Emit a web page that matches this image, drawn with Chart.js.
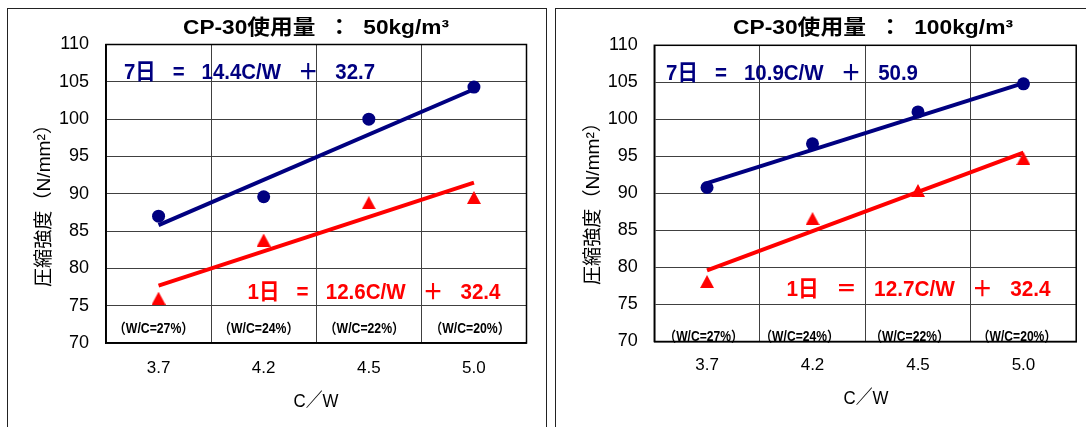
<!DOCTYPE html>
<html>
<head>
<meta charset="utf-8">
<script src="https://cdn.jsdelivr.net/npm/chart.js@4.4.1/dist/chart.umd.min.js"></script>
<style>
  html, body { margin: 0; padding: 0; background: #fff; }
  body { width: 1086px; height: 427px; overflow: hidden; position: relative; }
  .panel { position: absolute; border: 1px solid #222; box-sizing: border-box; }
  #p1 { left: 6.5px; top: 7.5px; width: 540px; height: 460px; }
  #p2 { left: 555px; top: 7.5px; width: 600px; height: 460px; }
  canvas { position: absolute; top: 0; }
  #c1 { left: 0; }
  #c2 { left: 546px; }
</style>
</head>
<body>
<div class="panel" id="p1"></div>
<div class="panel" id="p2"></div>
<canvas id="c1" width="546" height="427" style="width:546px;height:427px"></canvas>
<canvas id="c2" width="540" height="427" style="width:540px;height:427px"></canvas>
<script>
// ---- data ----
const categories = ['3.7', '4.2', '4.5', '5.0'];
const wcLabels = ['（W/C=27%）', '（W/C=24%）', '（W/C=22%）', '（W/C=20%）'];
const yTickMin = 70;
const yTickMax = 110;
const yTickStep = 5;

// CP-30 50kg/m3
const day7_50 = [87.0, 89.6, 100.0, 104.3];
const day1_50 = [76.0, 83.8, 88.8, 89.5];
const trend7_50 = [85.8, null, null, 104.0];
const trend1_50 = [77.7, null, null, 91.5];

// CP-30 100kg/m3
const day7_100 = [90.8, 96.7, 101.0, 104.8];
const day1_100 = [78.1, 86.6, 90.4, 94.7];
const trend7_100 = [91.4, null, null, 104.9];
const trend1_100 = [79.6, null, null, 95.5];

const title50 = 'CP-30使用量  ：  50kg/m³';
const title100 = 'CP-30使用量  ：  100kg/m³';
const eq7_50 = '7日   =   14.4C/W   ＋   32.7';
const eq1_50 = '1日   =   12.6C/W   ＋   32.4';
const eq7_100 = '7日   =   10.9C/W   ＋   50.9';
const eq1_100 = '1日   ＝   12.7C/W   ＋   32.4';
const yTitle = '圧縮強度（N/mm²）';
const xTitle = 'C／W';

// ---- styles ----
const NAVY = '#000080';
const RED = '#ff0000';
const FONT = '"Liberation Sans", Arial, "Noto Sans CJK JP", sans-serif';

function triangleImage(color) {
  const c = document.createElement('canvas');
  c.width = 14; c.height = 13;
  const g = c.getContext('2d');
  g.fillStyle = color;
  g.beginPath();
  g.moveTo(7, 0); g.lineTo(14, 13); g.lineTo(0, 13); g.closePath();
  g.fill();
  return c;
}
const triRed = triangleImage(RED);

function fitText(ctx, text, x, y, targetW, align, rot) {
  const w = ctx.measureText(text).width;
  const sx = targetW ? targetW / w : 1;
  ctx.save();
  ctx.translate(x, y);
  if (rot) ctx.rotate(rot);
  ctx.scale(sx, 1);
  ctx.textAlign = align || 'left';
  ctx.textBaseline = 'middle';
  ctx.fillText(text, 0, 0);
  ctx.restore();
}

const textPlugin = {
  id: 'texts',
  beforeDatasetsDraw(chart) {
    const {ctx, chartArea: a} = chart;
    ctx.save();
    ctx.strokeStyle = '#000';
    ctx.lineWidth = 1.5;
    ctx.strokeRect(a.left, a.top, a.right - a.left, a.bottom - a.top);
    ctx.restore();
  },
  afterDraw(chart, args, o) {
    const ctx = chart.ctx;
    const xs = chart.scales.x;
    ctx.save();
    ctx.fillStyle = '#000';
    ctx.font = 'bold 21px ' + FONT;
    fitText(ctx, o.title, o.titleX, o.titleY, o.titleW, 'center');
    ctx.font = 'bold 22px ' + FONT;
    ctx.fillStyle = NAVY;
    fitText(ctx, o.eq7, o.eq7X, o.eq7Y, o.eq7W, 'left');
    ctx.fillStyle = RED;
    fitText(ctx, o.eq1, o.eq1X, o.eq1Y, o.eq1W, 'left');
    ctx.fillStyle = '#000';
    ctx.font = 'bold 14px ' + FONT;
    wcLabels.forEach((t, i) => {
      const cx = xs.getPixelForValue(i) + o.wcShift[i];
      fitText(ctx, t, cx, o.wcY, o.wcW, 'center');
    });
    ctx.font = '19px ' + FONT;
    fitText(ctx, yTitle, o.yTitleX, o.yTitleY, o.yTitleW, 'center', -Math.PI / 2);
    fitText(ctx, xTitle, o.xTitleX, o.xTitleY, o.xTitleW, 'center');
    ctx.restore();
  }
};

function makeChart(id, d7, d1, t7, t1, geom, texts) {
  return new Chart(document.getElementById(id), {
    type: 'line',
    data: {
      labels: categories,
      datasets: [
        { label: '7日', data: d7, showLine: false, pointStyle: 'circle', pointRadius: 6.5,
          pointBackgroundColor: NAVY, pointBorderColor: NAVY, pointBorderWidth: 0, order: 1 },
        { label: '1日', data: d1, showLine: false, pointStyle: triRed, pointRadius: 7,
          pointBackgroundColor: RED, pointBorderColor: RED, order: 2 },
        { label: '7日 近似', data: t7, spanGaps: true, borderColor: NAVY, borderWidth: 4,
          pointRadius: 0, tension: 0, borderCapStyle: 'butt', order: 3 },
        { label: '1日 近似', data: t1, spanGaps: true, borderColor: RED, borderWidth: 4,
          pointRadius: 0, tension: 0, borderCapStyle: 'butt', order: 4 }
      ]
    },
    options: {
      responsive: false,
      animation: false,
      events: [],
      layout: { padding: { left: 0, top: geom.top, right: geom.right, bottom: 0 } },
      plugins: {
        legend: { display: false },
        tooltip: { enabled: false },
        title: { display: false },
        texts: texts
      },
      scales: {
        x: {
          type: 'category',
          offset: true,
          grid: { offset: true, color: '#404040', lineWidth: 1, drawTicks: false },
          border: { display: true, color: '#000', width: 1.5 },
          ticks: { color: '#000', font: { family: FONT, size: 17 }, padding: geom.xPad, maxRotation: 0 },
          afterFit(s) { s.height = geom.xH; }
        },
        y: {
          type: 'linear',
          min: yTickMin,
          max: yTickMax,
          ticks: { stepSize: yTickStep, color: '#000', font: { family: FONT, size: 18 }, padding: geom.yPad },
          grid: { color: '#404040', lineWidth: 1, drawTicks: false },
          border: { display: true, color: '#000', width: 1.5 },
          afterFit(s) { s.width = geom.yW; }
        }
      }
    },
    plugins: [textPlugin]
  });
}

makeChart('c1', day7_50, day1_50, trend7_50, trend1_50,
  { top: 44.5, right: 19.5, xH: 84, yW: 106, xPad: 15, yPad: 17 },
  { title: title50, titleX: 316, titleY: 28, titleW: 266,
    eq7: eq7_50, eq7X: 124, eq7Y: 73, eq7W: 251,
    eq1: eq1_50, eq1X: 247.5, eq1Y: 292.5, eq1W: 253,
    wcY: 329, wcW: 80, wcShift: [-5, -5, -4.5, -4],
    yTitleX: 44.5, yTitleY: 201, yTitleW: 172,
    xTitleX: 316, xTitleY: 402, xTitleW: 45 });

makeChart('c2', day7_100, day1_100, trend7_100, trend1_100,
  { top: 45.3, right: 9.8, xH: 85.5, yW: 108.3, xPad: 14, yPad: 16.5 },
  { title: title100, titleX: 327, titleY: 28, titleW: 280,
    eq7: eq7_100, eq7X: 120, eq7Y: 74, eq7W: 252,
    eq1: eq1_100, eq1X: 240.5, eq1Y: 290, eq1W: 264,
    wcY: 336.7, wcW: 79, wcShift: [-3.5, -13, -8.5, -6.5],
    yTitleX: 47.3, yTitleY: 199, yTitleW: 172,
    xTitleX: 320, xTitleY: 398.5, xTitleW: 45 });
</script>
</body>
</html>
